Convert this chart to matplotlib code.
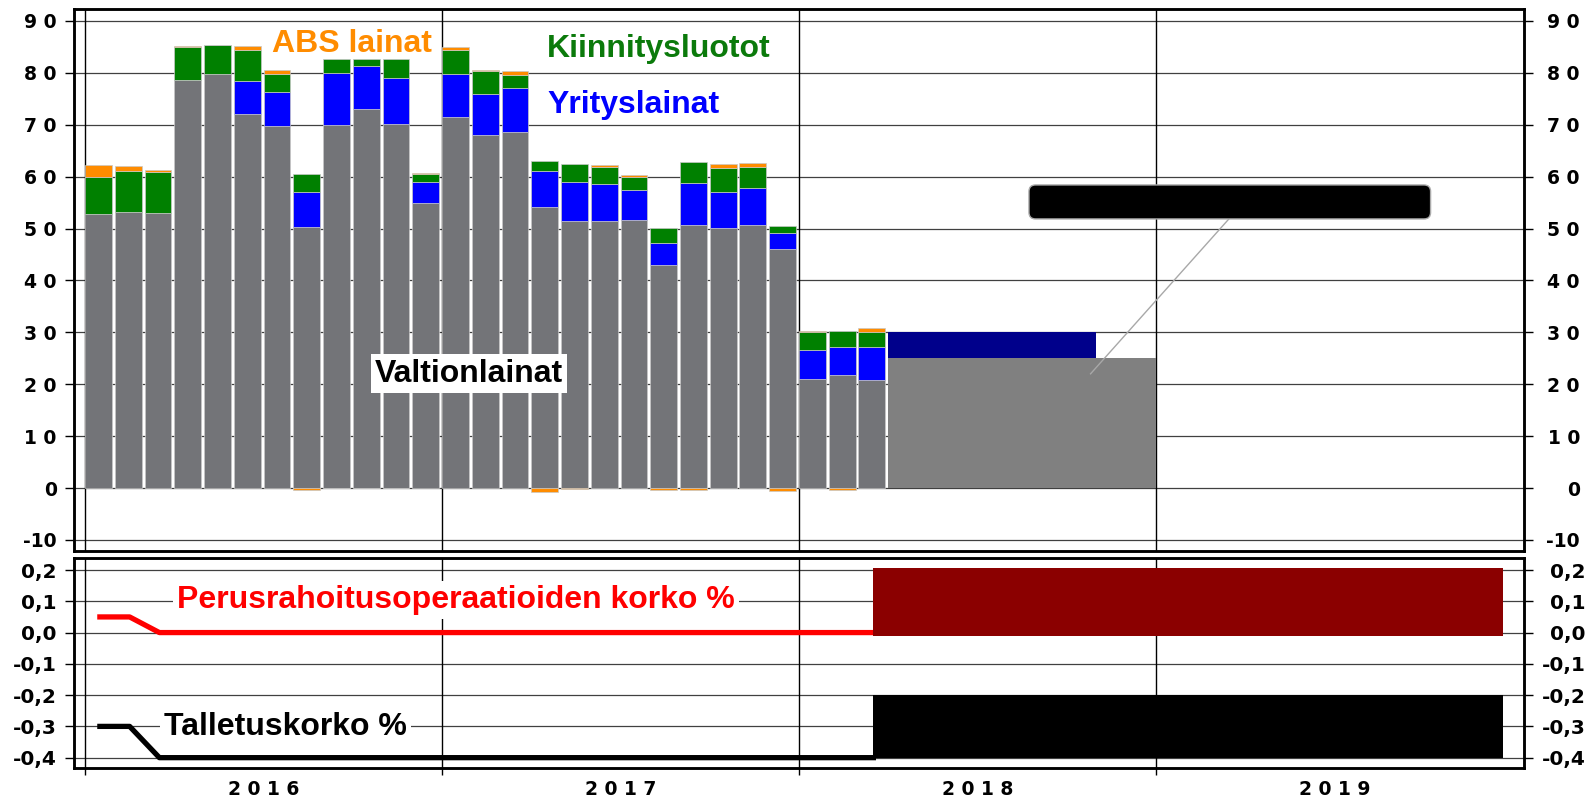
import numpy as np
import matplotlib.pyplot as plt
from matplotlib.patches import FancyBboxPatch

# monthly purchases, Jan 2016 .. Mar 2018 (mrd. euroa)
valtionlainat = [52.8, 53.2, 53.0, 78.6, 79.7, 72.0, 69.7, 50.3, 69.9, 73.0, 70.1, 55.0,
                 71.4, 68.1, 68.7, 54.2, 51.4, 51.5, 51.7, 42.9, 50.7, 50.1, 50.6, 46.0,
                 21.0, 21.8, 20.8]
yrityslainat = [0.0, 0.0, 0.0, 0.0, 0.0, 6.5, 6.7, 6.8, 10.0, 8.4, 9.0, 4.0,
                8.3, 7.8, 8.4, 6.8, 7.6, 7.1, 5.7, 4.4, 8.0, 7.0, 7.2, 3.1,
                5.6, 5.4, 6.4]
kiinnitysluotot = [7.2, 7.8, 7.8, 6.4, 5.6, 6.0, 3.3, 3.5, 2.7, 1.2, 3.5, 1.5,
                   4.8, 4.5, 2.4, 2.0, 3.5, 3.2, 2.5, 2.8, 4.1, 4.6, 4.0, 1.3,
                   3.4, 3.1, 2.9]
abs_lainat = [2.3, 1.0, 0.4, 0.1, 0.1, 0.6, 0.8, -0.3, 0.0, 0.0, 0.0, 0.2,
              0.5, 0.1, 0.8, -0.7, -0.1, 0.5, 0.5, -0.3, -0.4, 0.8, 0.8, -0.6,
              0.3, -0.3, 0.8]

# forecast blocks Apr-Dec 2018
ennuste_alku = 27
ennuste_valtio_loppu = 36
ennuste_valtio = 25
ennuste_muut_loppu = 34
ennuste_muut = 5

# ECB rates, monthly Jan 2016 .. Mar 2018
perus_korko = [0.05, 0.05, 0.0, 0.0, 0.0, 0.0, 0.0, 0.0, 0.0, 0.0, 0.0, 0.0,
               0.0, 0.0, 0.0, 0.0, 0.0, 0.0, 0.0, 0.0, 0.0, 0.0, 0.0, 0.0,
               0.0, 0.0, 0.0]
talletus_korko = [-0.3, -0.3, -0.4, -0.4, -0.4, -0.4, -0.4, -0.4, -0.4, -0.4, -0.4, -0.4,
                  -0.4, -0.4, -0.4, -0.4, -0.4, -0.4, -0.4, -0.4, -0.4, -0.4, -0.4, -0.4,
                  -0.4, -0.4, -0.4]
# forecast ranges 2018-2019
ennuste_korko_alku = 26.5
ennuste_korko_loppu = 47.67
perus_ala, perus_yla = -0.011, 0.207
talletus_ala, talletus_yla = -0.402, -0.2

vuodet = ['2 0 1 6', '2 0 1 7', '2 0 1 8', '2 0 1 9']
ylaticks = [-10, 0, 10, 20, 30, 40, 50, 60, 70, 80, 90]
ylaticklabels = ['-10', '0', '1 0', '2 0', '3 0', '4 0', '5 0', '6 0', '7 0', '8 0', '9 0']
alaticks = [-0.4, -0.3, -0.2, -0.1, 0.0, 0.1, 0.2]
alaticklabels = ['-0,4', '-0,3', '-0,2', '-0,1', '0,0', '0,1', '0,2']

plt.rcParams['font.family'] = ['Liberation Sans', 'DejaVu Sans']

harmaa = '#737478'
sininen = '#0000ff'
vihrea = '#008000'
oranssi = '#ff8c00'

fig = plt.figure(figsize=(15.9, 8.0), dpi=100)
ax = fig.add_axes([0.04654, 0.31125, 0.91195, 0.67713])
ax2 = fig.add_axes([0.04654, 0.03963, 0.91195, 0.2625])

xlim = (-0.37, 48.37)

# ---- top panel ----
x = np.arange(len(valtionlainat))
kw = dict(width=0.9, align='edge', edgecolor='#c8c8c8', linewidth=0.5, zorder=3)
b1 = np.array(valtionlainat)
b2 = b1 + np.array(yrityslainat)
b3 = b2 + np.array(kiinnitysluotot)
abs_arr = np.array(abs_lainat)
ax.bar(x, valtionlainat, color=harmaa, **kw)
ax.bar(x, yrityslainat, bottom=b1, color=sininen, **kw)
ax.bar(x, kiinnitysluotot, bottom=b2, color=vihrea, **kw)
ax.bar(x, abs_arr, bottom=np.where(abs_arr > 0, b3, 0), color=oranssi, **kw)

ax.bar([ennuste_alku], [ennuste_valtio], width=ennuste_valtio_loppu - ennuste_alku,
       align='edge', color='#808080', zorder=3)
ax.bar([ennuste_alku], [ennuste_muut], bottom=ennuste_valtio,
       width=ennuste_muut_loppu - ennuste_alku, align='edge', color='#00008b', zorder=3)

ax.set_xlim(xlim)
ax.set_ylim(-12.14, 92.25)
ax.set_yticks(ylaticks)
ax.set_yticklabels(ylaticklabels)
ax.grid(axis='y', color='#404040', lw=0.9)
ax.set_axisbelow(True)
for b in [0, 12, 24, 36]:
    ax.axvline(b, color='black', lw=1, zorder=2)
ax.tick_params(axis='x', length=0, labelbottom=False)
ax.tick_params(axis='y', direction='out', length=6.5, width=1, pad=6)

# redacted callout box
box = FancyBboxPatch((31.73, 51.85), 13.5, 6.55, boxstyle='round,pad=0,rounding_size=0.22',
                     mutation_aspect=5.7, fc='black', ec='#aaaaaa', lw=1, zorder=6)
ax.add_patch(box)
ax.plot([38.45, 33.8], [51.85, 22.0], color='#a8a8a8', lw=1, zorder=5)

lab = dict(fontsize=23, fontweight='bold', va='baseline', zorder=7)
ax.text(6.29, 84.1, 'ABS lainat', color=oranssi, **lab)
ax.text(15.53, 83.1, 'Kiinnitysluotot', color='#0b7a0b', **lab)
ax.text(15.56, 72.3, 'Yrityslainat', color=sininen, **lab)
ax.text(9.75, 20.5, 'Valtionlainat', color='black',
        bbox=dict(fc='white', ec='none', pad=3), **lab)

# ---- bottom panel ----
xr = np.arange(len(perus_korko)) + 0.5
ax2.plot(xr, perus_korko, color='red', lw=3.8, zorder=3)
ax2.plot(xr, talletus_korko, color='black', lw=3.8, zorder=3)
ax2.bar([ennuste_korko_alku], [perus_yla - perus_ala], bottom=perus_ala,
        width=ennuste_korko_loppu - ennuste_korko_alku, align='edge', color='#8b0000', zorder=4)
ax2.bar([ennuste_korko_alku], [talletus_yla - talletus_ala], bottom=talletus_ala,
        width=ennuste_korko_loppu - ennuste_korko_alku, align='edge', color='black', zorder=4)

ax2.set_xlim(xlim)
ax2.set_ylim(-0.434, 0.2375)
ax2.set_yticks(alaticks)
ax2.set_yticklabels(alaticklabels)
ax2.grid(axis='y', color='#404040', lw=0.9)
ax2.set_axisbelow(True)
for b in [0, 12, 24, 36]:
    ax2.axvline(b, color='black', lw=1, zorder=2)
ax2.set_xticks([0, 12, 24, 36])
ax2.set_xticklabels([])
ax2.set_xticks([6, 18, 30, 42], minor=True)
ax2.set_xticklabels(vuodet, minor=True, fontfamily='DejaVu Sans', fontweight='bold', fontsize=13.5)
ax2.tick_params(axis='x', which='major', direction='out', length=5, width=1)
ax2.tick_params(axis='x', which='minor', length=0, pad=8.5)
ax2.tick_params(axis='y', direction='out', length=6.5, width=1, pad=6)

ax2.text(3.09, 0.078, 'Perusrahoitusoperaatioiden korko %', color='red',
         bbox=dict(fc='white', ec='none', pad=3), **lab)
ax2.text(2.66, -0.329, 'Talletuskorko %', color='black',
         bbox=dict(fc='white', ec='none', pad=3), **lab)

# left + right y labels, right side right-aligned
for a, pad_r, fs in [(ax, 33.8, 13.5), (ax2, 38, 14.5)]:
    for s in a.spines.values():
        s.set_linewidth(1.8)
    for t in a.get_yticklabels():
        t.set(fontfamily='DejaVu Sans', fontweight='bold', fontsize=fs)
    r = a.twinx()
    r.set_ylim(a.get_ylim())
    r.set_yticks(a.get_yticks())
    r.set_yticklabels([t.get_text() for t in a.get_yticklabels()],
                      fontfamily='DejaVu Sans', fontweight='bold', fontsize=fs, ha='right')
    r.tick_params(axis='y', direction='out', length=6.5, width=1, pad=pad_r)
    for s in r.spines.values():
        s.set_linewidth(1.8)

fig.savefig('out.png', dpi=100)
